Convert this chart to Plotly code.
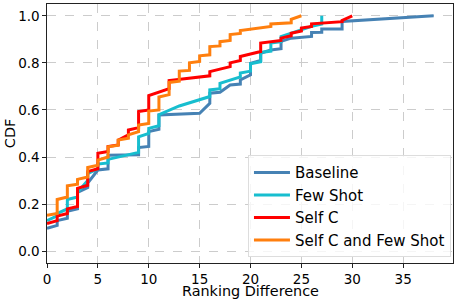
import plotly.graph_objects as go

series_names = ["Baseline", "Few Shot", "Self C", "Self C and Few Shot"]
series_colors = ["#4682b4", "#17becf", "#ff0000", "#ff7f0e"]

baseline_x = [0, 1, 1, 2, 2, 3, 3, 4, 4, 5, 6, 6, 9, 9, 10, 10, 11, 11, 15, 16, 16, 17, 18, 19, 19, 20, 20, 21, 21, 22, 23, 23, 24, 26, 26, 27, 27, 29, 29, 38]
baseline_cdf = [0.097, 0.11, 0.13, 0.14, 0.17, 0.18, 0.25, 0.27, 0.29, 0.345, 0.35, 0.408, 0.41, 0.44, 0.445, 0.508, 0.518, 0.579, 0.586, 0.628, 0.671, 0.675, 0.706, 0.71, 0.728, 0.749, 0.798, 0.81, 0.841, 0.855, 0.86, 0.891, 0.905, 0.912, 0.929, 0.93, 0.944, 0.944, 0.976, 1.0]

fewshot_x = [0, 1, 1, 2, 2, 3, 3, 4, 4, 5, 5, 6, 6, 9, 9, 10, 10, 11, 11, 13, 16, 16, 17, 17, 19, 19, 20, 20, 21, 21, 22, 22, 23, 23, 26, 27, 27]
fewshot_cdf = [0.13, 0.15, 0.16, 0.18, 0.22, 0.23, 0.25, 0.30, 0.33, 0.35, 0.37, 0.375, 0.39, 0.42, 0.486, 0.5, 0.522, 0.533, 0.58, 0.617, 0.657, 0.685, 0.69, 0.713, 0.74, 0.757, 0.765, 0.796, 0.805, 0.844, 0.85, 0.884, 0.89, 0.912, 0.955, 0.965, 1.0]

selfc_x = [0, 1, 1, 2, 2, 3, 3, 4, 4, 5, 5, 6, 6, 7, 7, 8, 8, 9, 9, 10, 10, 12, 12, 13, 16, 16, 18, 18, 19, 19, 21, 21, 23, 23, 24, 24, 25, 25, 26, 26, 29, 29, 30]
selfc_cdf = [0.118, 0.13, 0.149, 0.16, 0.18, 0.19, 0.267, 0.28, 0.338, 0.35, 0.416, 0.424, 0.445, 0.451, 0.472, 0.494, 0.515, 0.525, 0.593, 0.6, 0.661, 0.69, 0.725, 0.73, 0.745, 0.763, 0.784, 0.8, 0.81, 0.827, 0.848, 0.884, 0.895, 0.905, 0.915, 0.926, 0.935, 0.948, 0.955, 0.966, 0.975, 0.98, 1.0]

selfc_fewshot_x = [0, 1, 1, 2, 2, 3, 3, 4, 4, 5, 5, 6, 6, 7, 7, 8, 8, 9, 9, 10, 10, 11, 11, 12, 12, 13, 13, 14, 14, 15, 15, 16, 16, 17, 17, 18, 18, 19, 19, 22, 22, 24, 24, 25]
selfc_fewshot_cdf = [0.153, 0.16, 0.22, 0.23, 0.278, 0.285, 0.305, 0.315, 0.356, 0.365, 0.387, 0.40, 0.444, 0.45, 0.472, 0.48, 0.494, 0.508, 0.536, 0.543, 0.595, 0.60, 0.655, 0.665, 0.717, 0.722, 0.765, 0.768, 0.80, 0.806, 0.83, 0.834, 0.869, 0.872, 0.89, 0.895, 0.92, 0.925, 0.937, 0.955, 0.965, 0.97, 0.985, 1.0]

x_ticks = [0, 5, 10, 15, 20, 25, 30, 35]
y_ticks = [0.0, 0.2, 0.4, 0.6, 0.8, 1.0]
x_title = "Ranking Difference"
y_title = "CDF"

all_x = [baseline_x, fewshot_x, selfc_x, selfc_fewshot_x]
all_y = [baseline_cdf, fewshot_cdf, selfc_cdf, selfc_fewshot_cdf]

fig = go.Figure()
for name, color, xs, ys in zip(series_names, series_colors, all_x, all_y):
    fig.add_trace(go.Scatter(x=xs, y=ys, mode="lines", name=name,
                             line=dict(color=color, width=3)))

font_family = "DejaVu Sans"
axis_common = dict(
    showgrid=True, gridcolor="#cccccc", griddash="dash", gridwidth=0.8,
    showline=True, linecolor="#222222", linewidth=1.2, mirror=True,
    ticks="outside", ticklen=3.5, tickcolor="#222222",
    tickfont=dict(family=font_family, size=13.5, color="black"),
    zeroline=False, automargin=False,
)
fig.update_xaxes(range=[0, 39.9], tickvals=x_ticks, ticktext=[str(v) for v in x_ticks], **axis_common)
fig.update_yaxes(range=[-0.05, 1.05], tickvals=y_ticks, ticktext=[f"{v:.1f}" for v in y_ticks], **axis_common)

fig.add_annotation(text=x_title, xref="paper", yref="paper", x=0.5, y=-0.072,
                   xanchor="center", yanchor="top", showarrow=False, borderpad=0,
                   font=dict(family=font_family, size=14.4, color="black"))
fig.add_annotation(text=y_title, xref="paper", yref="paper", x=-0.092, y=0.5,
                   xanchor="center", yanchor="middle", textangle=-90, showarrow=False,
                   font=dict(family=font_family, size=14.4, color="black"))

fig.update_layout(
    width=459, height=303,
    margin=dict(l=47, r=6, t=4, b=40),
    plot_bgcolor="white", paper_bgcolor="white",
    font=dict(family=font_family, size=14, color="black"),
    legend=dict(x=0.995, y=0.022, xanchor="right", yanchor="bottom",
                bgcolor="rgba(255,255,255,0.8)", bordercolor="#dddddd", borderwidth=1,
                font=dict(family=font_family, size=15, color="black"),
                tracegroupgap=0, itemwidth=36),
    showlegend=True,
)

fig.write_html("out.html", post_script="document.body.style.margin='0px';",
               config={"displayModeBar": False})
